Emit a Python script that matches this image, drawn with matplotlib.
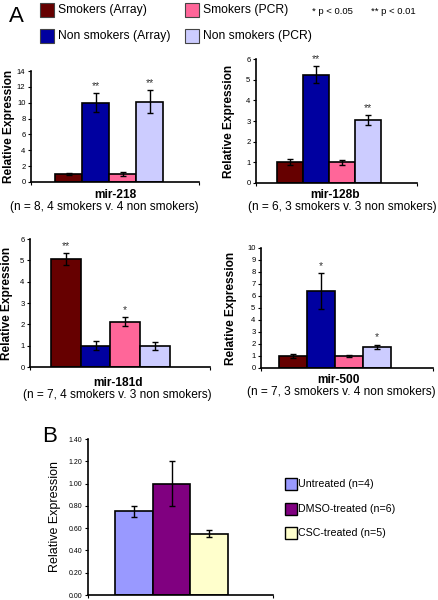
import matplotlib
matplotlib.use('Agg')
import matplotlib.pyplot as plt
from matplotlib.patches import Rectangle
import numpy as np

plt.rcParams['font.family'] = ['Liberation Sans', 'DejaVu Sans']

# Panel A: four groups per miRNA
groups = ['Smokers (Array)', 'Non smokers (Array)', 'Smokers (PCR)', 'Non smokers (PCR)']
group_colors = ['#660000', '#0000A0', '#FF6699', '#CCCCFF']

mir218_vals = [1.0, 10.0, 1.0, 10.15]
mir218_err = [0.15, 1.2, 0.3, 1.45]
mir218_stars = ['', '**', '', '**']

mir128b_vals = [1.0, 5.25, 1.0, 3.05]
mir128b_err = [0.15, 0.4, 0.13, 0.25]
mir128b_stars = ['', '**', '', '**']

mir181d_vals = [5.05, 1.0, 2.12, 1.0]
mir181d_err = [0.28, 0.22, 0.22, 0.18]
mir181d_stars = ['**', '', '*', '']

mir500_vals = [1.0, 6.4, 1.0, 1.75]
mir500_err = [0.18, 1.5, 0.05, 0.2]
mir500_stars = ['', '*', '', '*']

# Panel B
treatments = ['Untreated (n=4)', 'DMSO-treated (n=6)', 'CSC-treated (n=5)']
treat_colors = ['#9999FF', '#800080', '#FFFFCC']
treat_vals = [0.75, 1.0, 0.55]
treat_err = [0.05, 0.2, 0.03]

W, H = 438, 600
fig = plt.figure(figsize=(W / 100, H / 100), dpi=100)


def px_axes(left, right, top, bottom):
    return fig.add_axes([left / W, 1 - bottom / H, (right - left) / W, (bottom - top) / H])


def style_axes(ax, xlim, ylim, yticks, fmt='{:g}'):
    ax.set_xlim(*xlim)
    ax.set_ylim(*ylim)
    for s in ['top', 'right']:
        ax.spines[s].set_visible(False)
    for s in ['left', 'bottom']:
        ax.spines[s].set_linewidth(1.2)
    ax.set_yticks(yticks)
    ax.set_yticklabels([fmt.format(t) for t in yticks], fontsize=5.5)
    ax.set_xticks([xlim[0], xlim[1]])
    ax.set_xticklabels(['', ''])
    ax.tick_params(axis='both', direction='out', length=2.5, width=0.8, pad=1.5)


def draw_panel(box, xlim, ylim, yticks, vals, err, stars, name, sub, lab_x, title_x, sub_x, title_y):
    ax = px_axes(*box)
    x = np.arange(len(vals))
    ax.bar(x, vals, width=1.0, color=group_colors, edgecolor='black', linewidth=1.2, zorder=2)
    ax.errorbar(x, vals, yerr=err, fmt='none', ecolor='black', elinewidth=1.0,
                capsize=2, capthick=1.0, zorder=3)
    for xi, v, e, s in zip(x, vals, err, stars):
        if s:
            ax.annotate(s, (xi, v + e), xytext=(0, 1.5), textcoords='offset points',
                        ha='center', va='bottom', fontsize=7.5, color='#333333',
                        annotation_clip=False)
    style_axes(ax, xlim, ylim, yticks)
    left, right, top, bottom = box
    fig.text(lab_x / W, 1 - (top + bottom) / 2 / H, 'Relative Expression', rotation=90,
             ha='center', va='center', fontsize=8.6, fontweight='bold')
    fig.text(title_x / W, 1 - title_y / H, name, ha='center', va='center',
             fontsize=8.6, fontweight='bold')
    fig.text(sub_x / W, 1 - (title_y + 12) / H, sub, ha='center', va='center', fontsize=8.6)
    return ax


draw_panel((31, 199, 71, 182), (-1.39, 4.83), (0, 14), np.arange(0, 15, 2),
           mir218_vals, mir218_err, mir218_stars, 'mir-218',
           '(n = 8, 4 smokers v. 4 non smokers)', 9, 115, 104, 195)
draw_panel((256, 417, 59, 183), (-1.31, 4.88), (0, 6), np.arange(0, 7, 1),
           mir128b_vals, mir128b_err, mir128b_stars, 'mir-128b',
           '(n = 6, 3 smokers v. 3 non smokers)', 229, 335, 342, 195)
draw_panel((30, 210, 239, 367), (-1.21, 4.85), (0, 6), np.arange(0, 7, 1),
           mir181d_vals, mir181d_err, mir181d_stars, 'mir-181d',
           '(n = 7, 4 smokers v. 3 non smokers)', 7, 118, 117, 383)
draw_panel((261, 433, 248, 368), (-1.14, 5.0), (0, 10), np.arange(0, 11, 1),
           mir500_vals, mir500_err, mir500_stars, 'mir-500',
           '(n = 7, 3 smokers v. 4 non smokers)', 231, 338, 341, 380)

# Panel B
axb = px_axes(88, 273, 439, 595)
xb = np.arange(len(treat_vals))
axb.bar(xb, treat_vals, width=1.0, color=treat_colors, edgecolor='black', linewidth=1.2, zorder=2)
axb.errorbar(xb, treat_vals, yerr=treat_err, fmt='none', ecolor='black', elinewidth=1.0,
             capsize=2, capthick=1.0, zorder=3)
style_axes(axb, (-1.22, 3.69), (0, 1.4), np.round(np.arange(0, 1.41, 0.2), 2), fmt='{:.2f}')
axb.tick_params(axis='y', labelsize=5)
fig.text(55 / W, 1 - 517 / H, 'Relative Expression', rotation=90, ha='center', va='center',
         fontsize=9)

# Legend A
fig.text(16 / W, 1 - 16 / H, 'A', ha='center', va='center', fontsize=16)
leg_pos = [(40, 10), (40, 36), (185, 10), (185, 36)]
for (lx, ly), name, c in zip(leg_pos, groups, group_colors):
    fig.patches.append(Rectangle(((lx) / W, 1 - (ly + 7) / H), 14 / W, 14 / H,
                                 transform=fig.transFigure, facecolor=c,
                                 edgecolor='#444444', linewidth=0.8))
    fig.text((lx + 18) / W, 1 - ly / H, name, ha='left', va='center', fontsize=8.7)
fig.text(312 / W, 1 - 11 / H, '* p < 0.05', ha='left', va='center', fontsize=6.8)
fig.text(371 / W, 1 - 11 / H, '** p < 0.01', ha='left', va='center', fontsize=6.8)

# Legend B
fig.text(50 / W, 1 - 436 / H, 'B', ha='center', va='center', fontsize=16)
for i, (name, c) in enumerate(zip(treatments, treat_colors)):
    ly = 484 + i * 24.5
    fig.patches.append(Rectangle((285 / W, 1 - (ly + 6) / H), 12 / W, 12 / H,
                                 transform=fig.transFigure, facecolor=c,
                                 edgecolor='black', linewidth=1.0))
    fig.text(298 / W, 1 - ly / H, name, ha='left', va='center', fontsize=7.7)

fig.savefig('out.png', dpi=100)
